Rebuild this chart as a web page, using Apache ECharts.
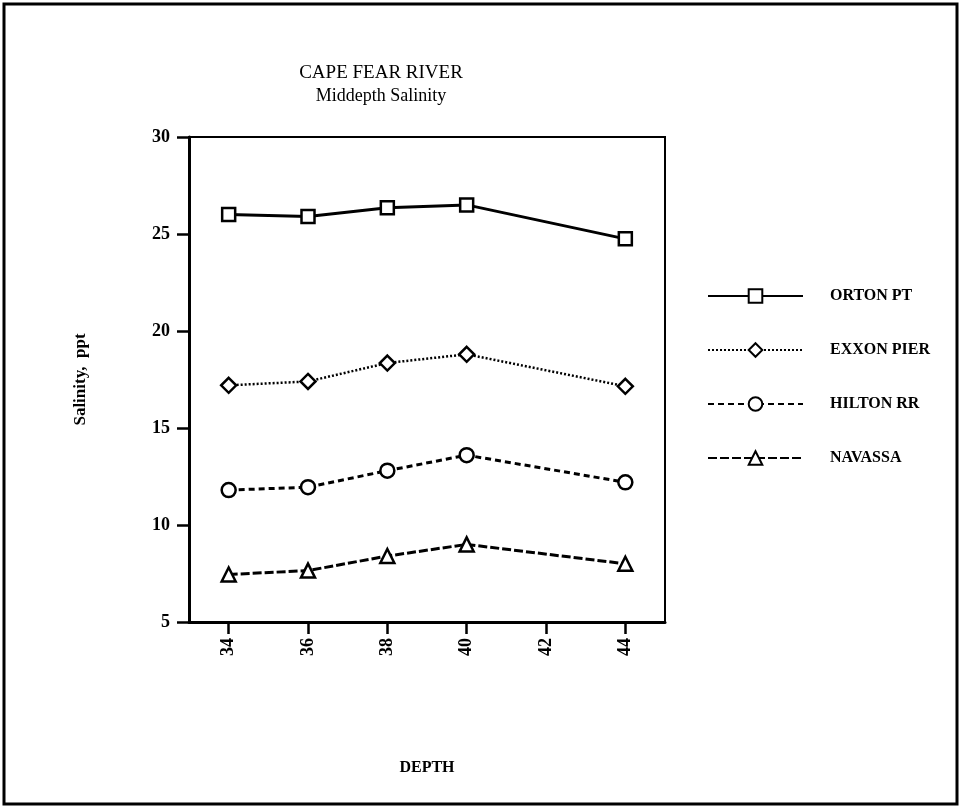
<!DOCTYPE html>
<html>
<head>
<meta charset="utf-8">
<script src="https://cdn.jsdelivr.net/npm/echarts@6/dist/echarts.min.js"></script>
<style>
html,body{margin:0;padding:0;background:#fff;}
#chart{width:961px;height:810px;}
</style>
</head>
<body>
<div id="chart"></div>
<script>
const depths = [34, 36, 38, 40, 44];
const xTicks = [34, 36, 38, 40, 42, 44];
const seriesNames = ['ORTON PT', 'EXXON PIER', 'HILTON RR', 'NAVASSA'];
const ortonPt = [26.0, 25.9, 26.35, 26.5, 24.75];
const exxonPier = [17.2, 17.4, 18.35, 18.8, 17.15];
const hiltonRR = [11.8, 11.95, 12.8, 13.6, 12.2];
const navassa = [7.45, 7.65, 8.4, 9.0, 8.0];

const FONT = '"Liberation Serif", "Times New Roman", serif';
const styles = [
  {symbol: 'rect', size: 13, line: {type: 'solid', width: 3}},
  {symbol: 'diamond', size: 15, line: {type: [2, 2], width: 2.5}},
  {symbol: 'circle', size: 14, line: {type: [6, 4], width: 3}},
  {symbol: 'triangle', size: 14, line: {type: [9, 3], width: 3}}
];
const allValues = [ortonPt, exxonPier, hiltonRR, navassa];

const chart = echarts.init(document.getElementById('chart'));
chart.setOption({
  backgroundColor: '#fff',
  animation: false,
  graphic: [{
    type: 'rect',
    shape: {x: 4, y: 4, width: 953, height: 800},
    style: {fill: 'none', stroke: '#000', lineWidth: 3},
    silent: true
  }],
  title: {
    text: 'CAPE FEAR RIVER',
    subtext: 'Middepth Salinity',
    left: 376,
    top: 59,
    textAlign: 'center',
    itemGap: 4,
    textStyle: {fontFamily: FONT, fontSize: 19, fontWeight: 'normal', color: '#000'},
    subtextStyle: {fontFamily: FONT, fontSize: 18, color: '#000'}
  },
  legend: {
    orient: 'vertical',
    left: 702,
    top: 283,
    itemWidth: 95,
    itemHeight: 17,
    itemGap: 38,
    data: seriesNames,
    textStyle: {fontFamily: FONT, fontSize: 16, fontWeight: 'bold', color: '#000', padding: [0, 0, 0, 22]}
  },
  grid: {
    left: 189, right: 296, top: 137, bottom: 188,
    show: true, borderColor: '#000', borderWidth: 2, backgroundColor: 'transparent'
  },
  xAxis: {
    type: 'value',
    min: 33, max: 45,
    name: 'DEPTH',
    nameLocation: 'middle',
    nameGap: 138,
    nameTextStyle: {fontFamily: FONT, fontSize: 16, fontWeight: 'bold', color: '#000'},
    axisLine: {lineStyle: {color: '#000', width: 3}},
    axisTick: {show: true, length: 12, lineStyle: {color: '#000', width: 2.5}, customValues: xTicks},
    axisLabel: {rotate: 90, margin: 16, fontFamily: FONT, fontSize: 18, fontWeight: 'bold', color: '#000', customValues: xTicks},
    splitLine: {show: false}
  },
  yAxis: {
    type: 'value',
    min: 5, max: 30, interval: 5,
    name: 'Salinity,  ppt',
    nameLocation: 'middle',
    nameGap: 100,
    nameRotate: 90,
    nameTextStyle: {fontFamily: FONT, fontSize: 17, fontWeight: 'bold', color: '#000'},
    axisLine: {lineStyle: {color: '#000', width: 3}},
    axisTick: {show: true, length: 12, lineStyle: {color: '#000', width: 2.5}},
    axisLabel: {margin: 19, fontFamily: FONT, fontSize: 18, fontWeight: 'bold', color: '#000'},
    splitLine: {show: false}
  },
  series: seriesNames.map((name, i) => ({
    name: name,
    type: 'line',
    data: depths.map((d, j) => [d, allValues[i][j]]),
    symbol: styles[i].symbol,
    symbolSize: styles[i].size,
    showAllSymbol: true,
    lineStyle: {color: '#000', width: styles[i].line.width, type: styles[i].line.type},
    itemStyle: {color: '#fff', borderColor: '#000', borderWidth: 2.5},
    color: '#000'
  }))
});
</script>
</body>
</html>
